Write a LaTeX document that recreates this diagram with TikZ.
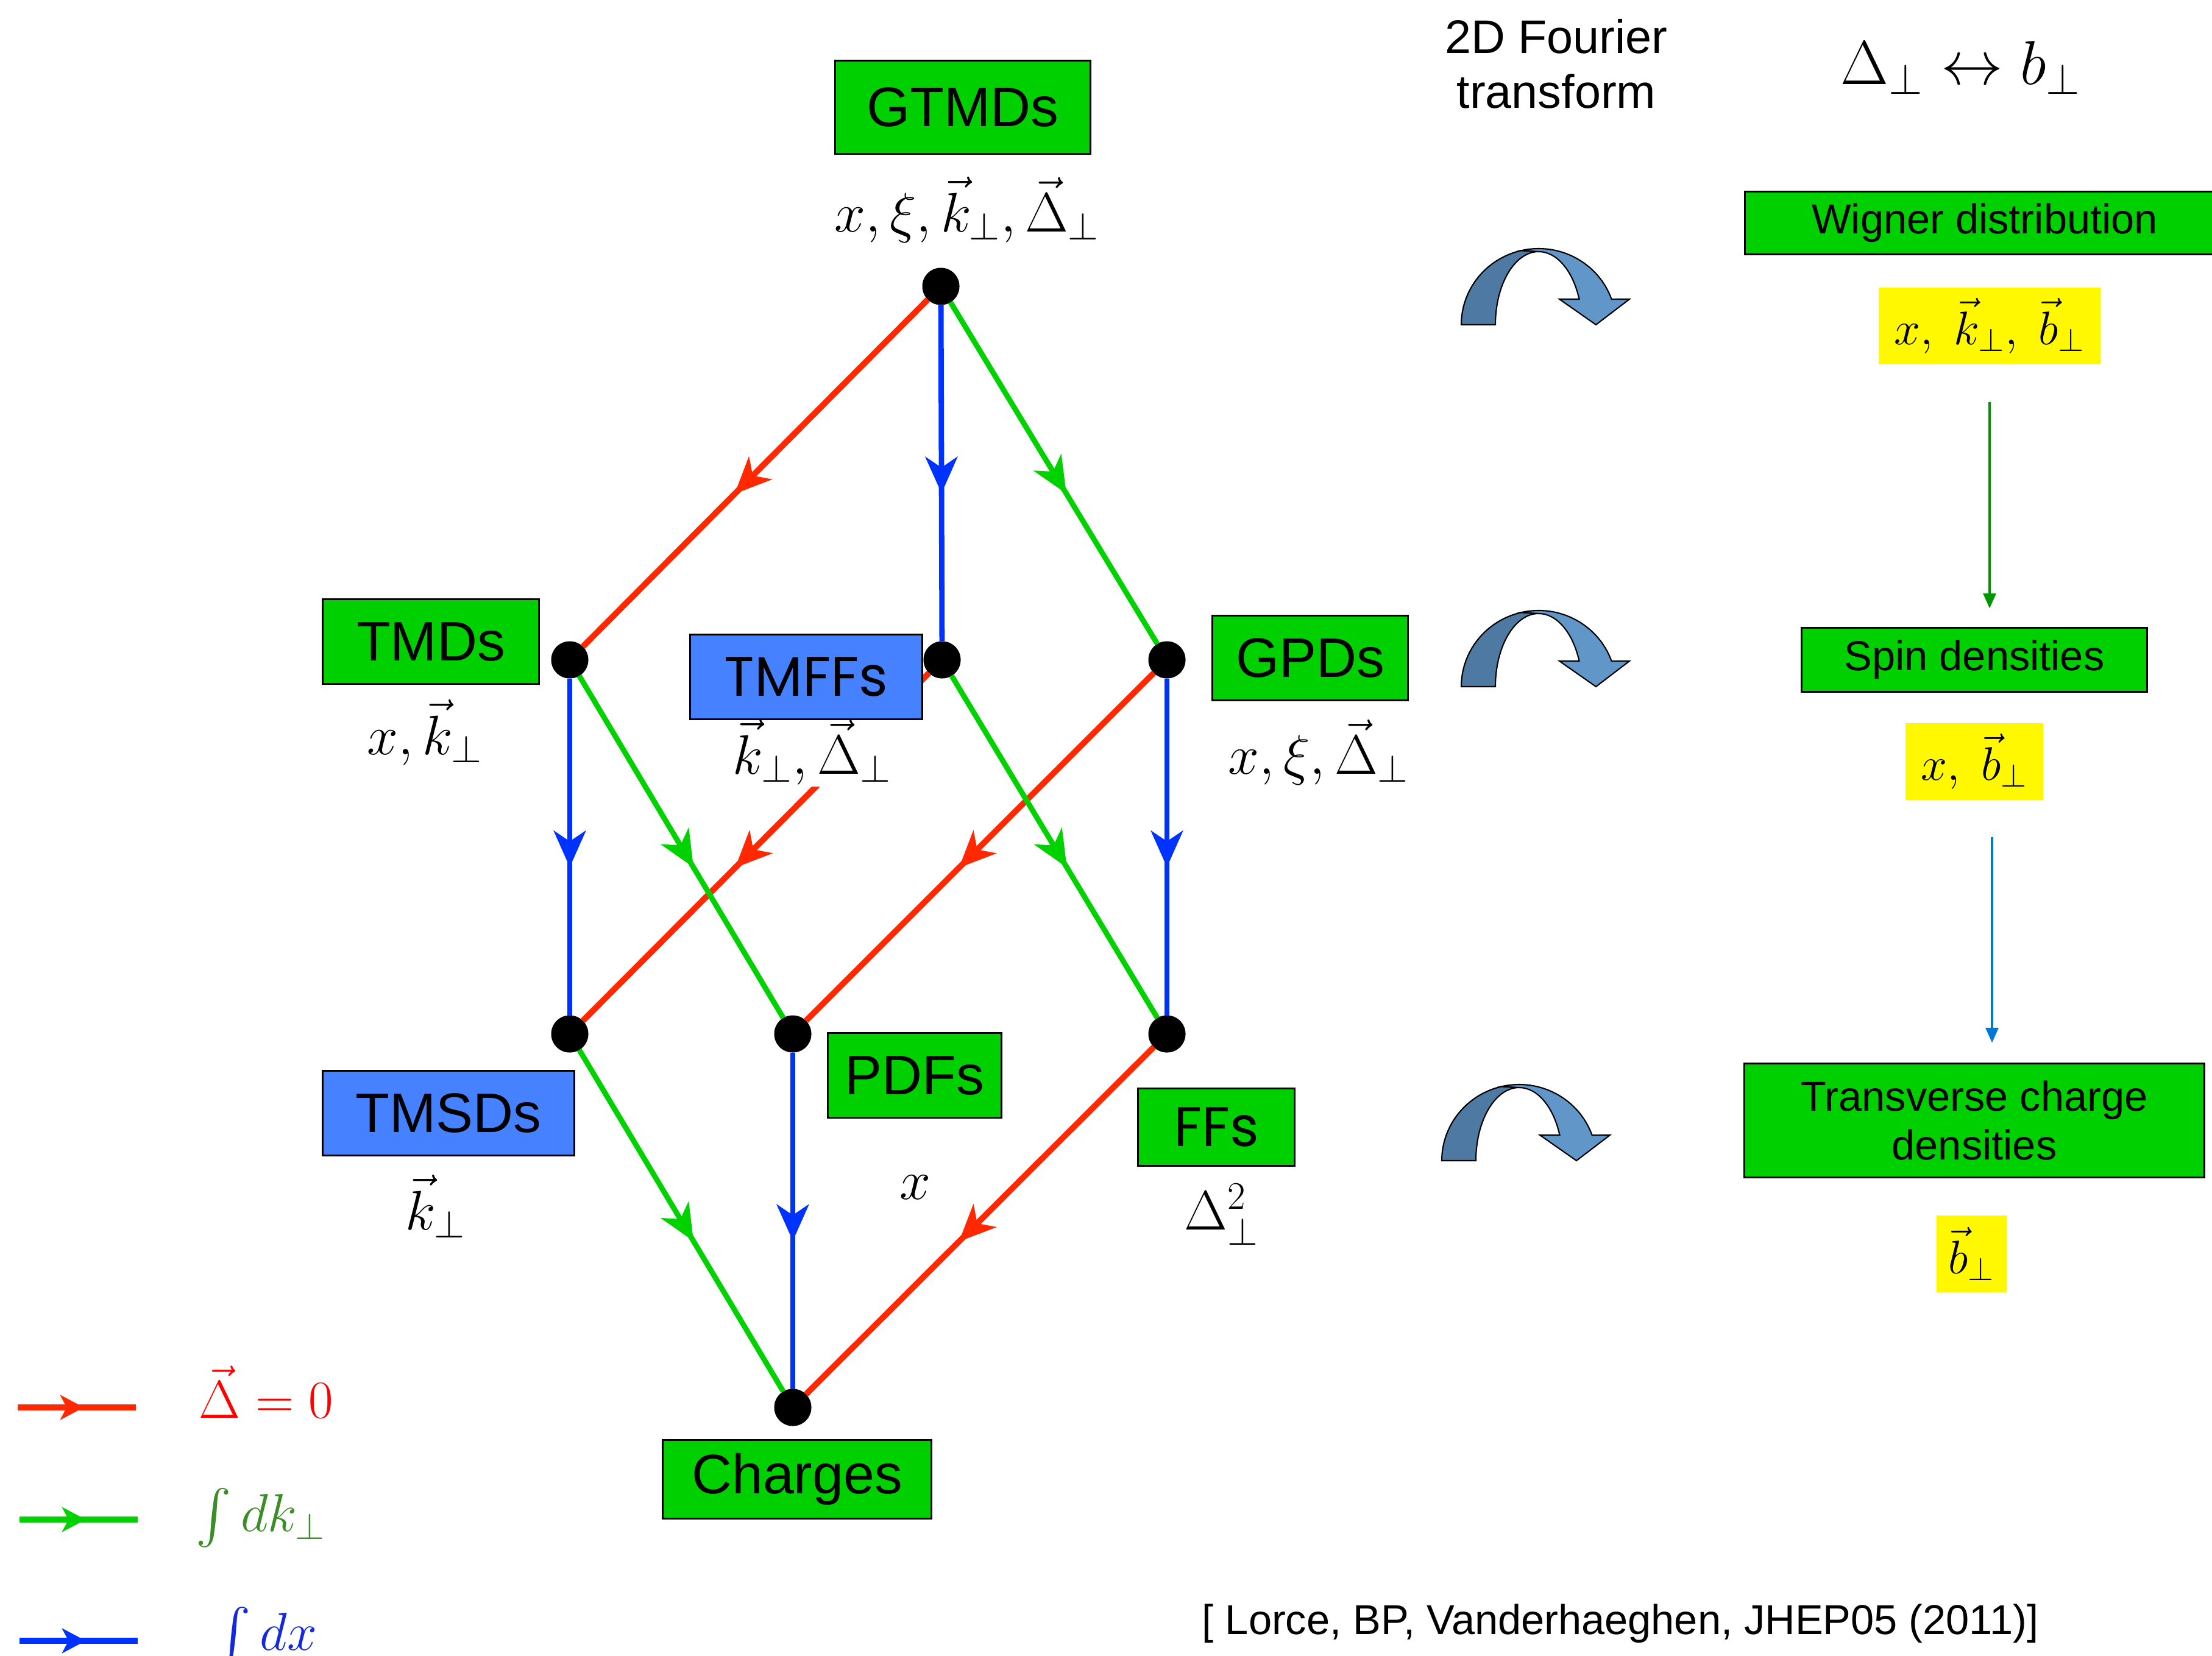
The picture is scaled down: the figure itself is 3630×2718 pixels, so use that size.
\RequirePackage{fix-cm}
\documentclass[tikz,border=0pt]{standalone}
\usepackage{fontspec}
\setmainfont{Liberation Sans}
\newfontfamily\comicfont{Poppins}
\DeclareFontShape{OMX}{cmex}{m}{n}{<->cmex10}{}
\usetikzlibrary{arrows.meta,decorations.markings}
\definecolor{lred}{RGB}{255,40,0}
\definecolor{lgreen}{RGB}{0,210,0}
\definecolor{lblue}{RGB}{0,50,255}
\definecolor{boxgreen}{RGB}{0,208,0}
\definecolor{boxblue}{RGB}{70,130,255}
\definecolor{ybox}{RGB}{255,248,0}
\definecolor{fdark}{RGB}{78,121,163}
\definecolor{flight}{RGB}{97,150,201}
\definecolor{tred}{RGB}{255,0,0}
\definecolor{tgreen}{RGB}{60,140,40}
\definecolor{tblue}{RGB}{20,40,220}
\definecolor{rgreen}{RGB}{0,150,0}
\definecolor{rblue}{RGB}{0,120,215}
\newcommand\fsbox{\fontsize{26}{31}\selectfont}
\newcommand\fslab{\fontsize{26}{31}\selectfont}
\newcommand\fsright{\fontsize{19.5}{22.8}\selectfont}
\newcommand\fsyel{\fontsize{22}{26}\selectfont}
\begin{document}
\begin{tikzpicture}[x=0.01cm,y=-0.01cm,
  midarrow/.style={postaction={decorate},decoration={markings,
     mark=at position #1 with {\arrow{Stealth[length=17pt,width=15pt,inset=5pt]}}}},
  midarrow/.default=0.56,
  redl/.style={draw=lred,line width=2.8pt,midarrow},
  greenl/.style={draw=lgreen,line width=2.5pt,midarrow},
  bluel/.style={draw=lblue,line width=2.5pt,midarrow},
  legarrow/.style={postaction={decorate},decoration={markings,
     mark=at position 0.56 with {\arrow{Stealth[length=11pt,width=11.5pt,inset=3pt]}}}},
  dot/.style={circle,fill=black,minimum size=0.61cm,inner sep=0pt,outer sep=0pt},
  gbox/.style={draw=black,line width=0.85pt,fill=boxgreen,inner sep=0pt,font=\fsbox},
  bbox/.style={gbox,fill=boxblue},
  rbox/.style={draw=black,line width=0.85pt,fill=boxgreen,inner sep=0pt,font=\fsright,align=center},
  ylw/.style={fill=ybox,inner sep=0pt,font=\fsyel},
  lab/.style={inner sep=2pt,font=\fslab,anchor=base},
  farrow/.pic={
    \begin{scope}[yscale=-1]
      \path[fill=fdark,draw=black,line width=0.6pt]
        (0,0) arc[start angle=180,end angle=103,x radius=127,y radius=125]
        -- (127,120) arc[start angle=90,end angle=180,x radius=71,y radius=120] -- cycle;
      \path[fill=flight,draw=black,line width=0.6pt]
        (98.4,121.8) arc[start angle=103,end angle=19.6,x radius=127,y radius=125]
        -- (276,42) -- (221,0) -- (161,42) -- (193.5,42)
        arc[start angle=20.5,end angle=90,x radius=71,y radius=120] -- cycle;
    \end{scope}
  }
]
\useasboundingbox (0,0) rectangle (3630,2718);
\begin{scope}
\clip (0,0) rectangle (3630,2718);

\path
  (1544,470)  coordinate (p0)
  (935,1083)  coordinate (p1)
  (1546,1083) coordinate (p2)
  (1915,1083) coordinate (p3)
  (935,1697)  coordinate (p4)
  (1301,1697) coordinate (p5)
  (1915,1697) coordinate (p6)
  (1301,2310) coordinate (p7);
\node[dot] (n0) at (p0) {};
\node[dot] (n1) at (p1) {};
\node[dot] (n2) at (p2) {};
\node[dot] (n3) at (p3) {};
\node[dot] (n4) at (p4) {};
\node[dot] (n5) at (p5) {};
\node[dot] (n6) at (p6) {};
\node[dot] (n7) at (p7) {};

% connectors
\draw[redl] (n0) -- (n1);
\draw[redl] (n2) -- (n4);
\draw[redl] (n3) -- (n5);
\draw[redl] (n6) -- (n7);
\draw[greenl] (n0) -- (n3);
\draw[greenl] (n1) -- (n5);
\draw[greenl] (n2) -- (n6);
\draw[greenl] (n4) -- (n7);
\draw[bluel] (n0) -- (n2);
\draw[bluel] (n1) -- (n4);
\draw[bluel] (n3) -- (n6);
\draw[bluel] (n5) -- (n7);

\foreach \i in {0,...,7} {\fill[black] (p\i) circle[radius=30];}

% variable labels (TMFFs label first so that its box lies on top)
\node[lab,fill=white,inner xsep=4pt,inner ysep=1pt] (tmffl) at (1333,1270) {$\vec k_\perp,\vec\Delta_\perp$};
\node[lab] (gtmdl) at (1587,380) {$x,\xi,\vec k_\perp,\vec\Delta_\perp$};
\node[lab] (tmdl) at (697,1238) {$x,\vec k_\perp$};
\node[lab] (gpdl) at (2164,1270) {$x,\xi,\vec\Delta_\perp$};
\node[lab] (tmsdl) at (715,2018) {$\vec k_\perp$};
\node[lab] (pdfl) at (1502,1968) {$x$};
\node[lab] (ffl) at (2005,2018) {$\Delta_\perp^2$};

% boxes
\node[gbox,minimum width=4.19cm,minimum height=1.52cm] (gtmd) at (1580,176) {GTMDs};
\node[gbox,minimum width=3.54cm,minimum height=1.39cm] (tmdb) at (707,1053) {TMDs};
\node[bbox,minimum width=3.80cm,minimum height=1.38cm] (tmffb) at (1323,1111) {\comicfont TMFFs};
\node[gbox,minimum width=3.20cm,minimum height=1.38cm] (gpdb) at (2150,1080) {GPDs};
\node[gbox,minimum width=2.85cm,minimum height=1.39cm] (pdfb) at (1501,1765) {PDFs};
\node[bbox,minimum width=4.12cm,minimum height=1.39cm] (tmsdb) at (736,1827) {TMSDs};
\node[gbox,minimum width=2.57cm,minimum height=1.27cm] (ffb) at (1996,1850) {\comicfont FFs};
\node[gbox,minimum width=4.40cm,minimum height=1.28cm] (chb) at (1308,2428) {Charges};

% top right texts
\node[font=\fontsize{22}{25.6}\selectfont,align=center,inner sep=0pt] (ft) at (2554,105) {2D Fourier\\transform};
\node[font=\fontsize{29}{34}\selectfont,inner sep=0pt] (dtob) at (3218,111) {$\Delta_\perp\leftrightarrow b_\perp$};

% curved arrows
\pic at (2398,533) {farrow};
\pic at (2398,1127) {farrow};
\pic at (2366,1905) {farrow};

% right column
\node[rbox,minimum width=7.86cm,minimum height=1.02cm] (wig) at (3257,366) {Wigner distribution};
\node[ylw,minimum width=3.63cm,minimum height=1.25cm] (y1) at (3265,535) {$x,\ \vec k_\perp,\ \vec b_\perp$};
\node[rbox,minimum width=5.66cm,minimum height=1.04cm] (spin) at (3240,1083) {Spin densities};
\node[ylw,minimum width=2.25cm,minimum height=1.26cm] (y2) at (3240,1250) {$x,\ \vec b_\perp$};
\node[rbox,minimum width=7.55cm,minimum height=1.86cm] (tcd) at (3240,1839) {Transverse charge\\densities};
\node[ylw,minimum width=1.15cm,minimum height=1.26cm] (y3) at (3235,2058) {$\vec b_\perp$};

\draw[draw=rgreen,line width=0.9pt,-{Triangle[length=7pt,width=6pt]},shorten <=0.62cm,shorten >=0.31cm]
  (y1.south) -- (y1.south |- spin.north);
\draw[draw=rblue,line width=0.9pt,-{Triangle[length=7pt,width=6pt]},shorten <=0.60cm,shorten >=0.33cm]
  (3269,0 |- y2.south) -- (3269,0 |- tcd.north);

% citation
\node[font=\fsright,inner sep=0pt] (cite) at (2659,2665) {[ Lorce, BP, Vanderhaeghen, JHEP05 (2011)]};

% legend
\coordinate (lr1) at (29,2310);  \coordinate (lr2) at (223,2310);
\coordinate (lg1) at (32,2494);  \coordinate (lg2) at (226,2494);
\coordinate (lb1) at (32,2693);  \coordinate (lb2) at (226,2693);
\draw[draw=lred,line width=2.8pt,legarrow] (lr1) -- (lr2);
\draw[draw=lgreen,line width=2.8pt,legarrow] (lg1) -- (lg2);
\draw[draw=lblue,line width=2.8pt,legarrow] (lb1) -- (lb2);
\node[lab,text=tred,font=\fontsize{25}{30}\selectfont] (legr) at (437,2327) {$\vec\Delta=0$};
\node[lab,text=tgreen,font=\fontsize{25}{30}\selectfont] (legg) at (428,2513) {$\int dk_\perp$};
\node[lab,text=tblue,font=\fontsize{25}{30}\selectfont] (legb) at (437,2708) {$\int dx$};
\end{scope}
\end{tikzpicture}
\end{document}
